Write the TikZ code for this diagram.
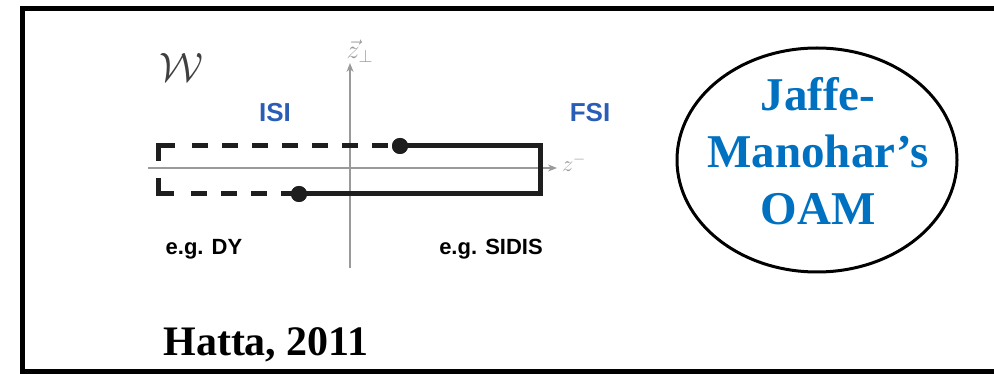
\documentclass[tikz,border=0pt]{standalone}
\usepackage{fontspec}
\setmainfont{Liberation Serif}
\setsansfont{Liberation Sans}
\usetikzlibrary{shapes.geometric,arrows.meta}
\definecolor{pathgray}{HTML}{1E1E1E}
\definecolor{axisgray}{HTML}{9A9A9A}
\definecolor{isiblue}{HTML}{2A5DB5}
\definecolor{oamblue}{HTML}{0070C0}
\tikzset{
  wline/.style={line width=5pt, draw=pathgray, miter limit=10},
  wdash/.style={wline, dash pattern=on 32pt off 17pt on 16pt off 14pt on 16pt off 14pt on 16pt off 14pt on 16pt off 14pt on 16pt off 14pt on 16pt off 14pt on 16pt off 14pt},
  wdot/.style={circle, fill=pathgray, inner sep=0pt, minimum size=16pt},
  axis/.style={line width=1.4pt, draw=axisgray, -{Stealth[length=9pt,width=7pt]}},
  regionlabel/.style={font=\sffamily\bfseries\fontsize{26}{28}\selectfont, text=isiblue},
  examplelabel/.style={font=\sffamily\bfseries\fontsize{22}{26}\selectfont, text=black},
  axislabel/.style={text=axisgray, inner sep=0pt, font=\LARGE}
}
\begin{document}
\begin{tikzpicture}[x=1pt, y=-1pt]
\useasboundingbox (0,0) rectangle (994,374);
\clip (0,0) rectangle (994,374);
\fill[white] (0,0) rectangle (994,374);
% outer frame, running off the right edge
\draw[line width=5pt] (22.5,8.5) rectangle (1010,371.5);

% axes
\coordinate (xl) at (148,168);
\coordinate (xr) at (557,168);
\coordinate (yb) at (350,268);
\coordinate (yt) at (350,63);
\draw[axis] (xl) -- (xr);
\draw[axis] (yb) -- (yt);
\node[axislabel, scale=1.5] (zperp) at (360,51) {$\vec z_\perp$};
\node[axislabel, scale=1.3] (zminus) at (574,163) {$z^-$};

% Wilson line
\coordinate (ucorner) at (158,161);
\coordinate (uleft) at (158,146);
\node[wdot] (udot) at (400,146) {};
\coordinate (uright) at (540,146);
\coordinate (lright) at (540,194);
\node[wdot] (ldot) at (299,194) {};
\coordinate (lleft) at (158,194);
\coordinate (lcorner) at (158,178);
\draw[wdash] (ucorner) -- (uleft) -- (udot.center);
\draw[wdash] (lcorner) -- (lleft) -- (ldot.center);
\draw[wline] (udot.center) -- (uright) -- (lright) -- (ldot.center);
\node[wdot] at (udot) {};
\node[wdot] at (ldot) {};

\node[text=pathgray!85, font=\Huge, scale=1.65] (wsym) at (181,67) {$\mathcal{W}$};
\node[regionlabel] (isi) at (275,113) {ISI};
\node[regionlabel] (fsi) at (590,113) {FSI};
\node[examplelabel] (dy) at (204,249) {e.g. DY};
\node[examplelabel] (sidis) at (491,249) {e.g. SIDIS};

% Jaffe-Manohar bubble
\node[ellipse, draw, line width=3pt, minimum width=280pt, minimum height=224pt] (oam) at (817,160) {};
\node[align=center, text=oamblue, font=\bfseries\fontsize{47}{57}\selectfont] (oamtext) at (818,151) {Jaffe-\\Manohar’s\\OAM};

\node[font=\bfseries\fontsize{42}{46}\selectfont, anchor=base] (ref) at (266,355) {Hatta, 2011};
\end{tikzpicture}
\end{document}
